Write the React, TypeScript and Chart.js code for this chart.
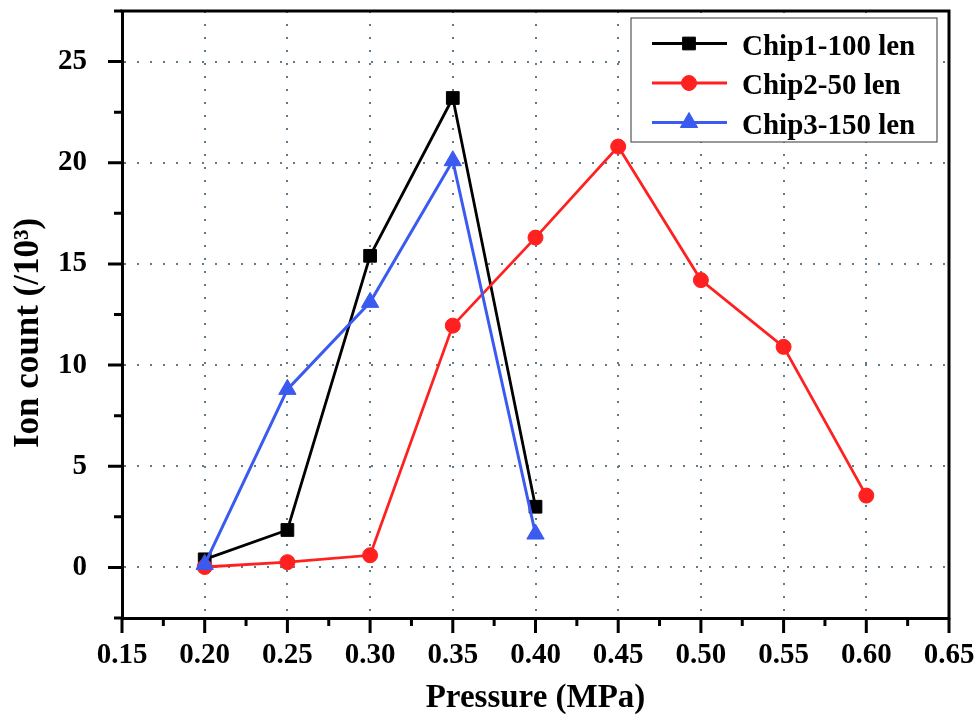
import { useEffect, useRef } from "react";
import { Chart, registerables } from "chart.js";
import { drawPoint } from "chart.js/helpers";

Chart.register(...registerables);

// Pressure (MPa) and ion counts (/10^3)
const pressure = [0.2, 0.25, 0.3, 0.35, 0.4, 0.45, 0.5, 0.55, 0.6];
const chip1 = [0.4, 1.85, 15.4, 23.2, 3.0];
const chip2 = [0.02, 0.26, 0.6, 11.95, 16.3, 20.8, 14.2, 10.9, 3.55];
const chip3 = [0.15, 8.8, 13.1, 20.1, 1.65];
const seriesLabels = ["Chip1-100 len", "Chip2-50 len", "Chip3-150 len"];

const xMajorTicks = [0.15, 0.2, 0.25, 0.3, 0.35, 0.4, 0.45, 0.5, 0.55, 0.6, 0.65];
const yMajorTicks = [0, 5, 10, 15, 20, 25];

const xTitle = "Pressure (MPa)";
const yTitle = "Ion count (/10\u00b3)";

const SERIF = '"Liberation Serif", "Times New Roman", serif';
const GRID = "#62798a";

const isIn = (list: number[], v: number) => list.some((t) => Math.abs(t - v) < 1e-6);

const framePlugin = {
  id: "frame",
  afterDraw(chart: any) {
    const { ctx, chartArea: a, scales } = chart;
    const xs = scales.x;
    const ys = scales.y;
    ctx.save();

    // top and right frame lines
    ctx.strokeStyle = "#000";
    ctx.lineWidth = 3;
    ctx.beginPath();
    ctx.moveTo(a.left - 1.5, a.top);
    ctx.lineTo(a.right + 1.5, a.top);
    ctx.moveTo(a.right, a.top);
    ctx.lineTo(a.right, a.bottom + 1.5);
    ctx.stroke();

    // outward major / minor ticks
    ctx.beginPath();
    xs.ticks.forEach((t: any) => {
      const px = xs.getPixelForValue(t.value);
      ctx.moveTo(px, a.bottom);
      ctx.lineTo(px, a.bottom + (isIn(xMajorTicks, t.value) ? 15 : 8));
    });
    ys.ticks.forEach((t: any) => {
      const py = ys.getPixelForValue(t.value);
      ctx.moveTo(a.left, py);
      ctx.lineTo(a.left - (isIn(yMajorTicks, t.value) ? 14 : 8), py);
    });
    ctx.stroke();

    // axis titles
    ctx.fillStyle = "#000";
    ctx.textAlign = "center";
    ctx.textBaseline = "alphabetic";
    ctx.font = `bold 33px ${SERIF}`;
    ctx.fillText(xTitle, (a.left + a.right) / 2, 707);
    ctx.save();
    ctx.font = `bold 35px ${SERIF}`;
    ctx.translate(38, 333);
    ctx.rotate(-Math.PI / 2);
    ctx.fillText(yTitle, 0, 0);
    ctx.restore();

    // legend box
    const bx = 631, by = 18, bw = 306, bh = 124;
    ctx.fillStyle = "#fff";
    ctx.fillRect(bx, by, bw, bh);
    ctx.strokeStyle = "#555";
    ctx.lineWidth = 1.2;
    ctx.strokeRect(bx, by, bw, bh);

    const rowY = [43.5, 83, 122.5];
    chart.data.datasets.forEach((ds: any, i: number) => {
      const y = rowY[i];
      ctx.strokeStyle = ds.borderColor;
      ctx.lineWidth = ds.borderWidth;
      ctx.beginPath();
      ctx.moveTo(652, y);
      ctx.lineTo(727, y);
      ctx.stroke();
      ctx.fillStyle = ds.pointBackgroundColor;
      ctx.strokeStyle = ds.pointBorderColor;
      ctx.lineWidth = ds.pointBorderWidth;
      drawPoint(ctx, { pointStyle: ds.pointStyle, radius: ds.pointRadius, borderWidth: ds.pointBorderWidth, rotation: 0 }, 689, y);
      ctx.fillStyle = "#000";
      ctx.font = `bold 29px ${SERIF}`;
      ctx.textAlign = "left";
      ctx.textBaseline = "alphabetic";
      ctx.fillText(ds.label, 742, y + 11);
    });

    ctx.restore();
  },
};

export default function App() {
  const canvasRef = useRef<HTMLCanvasElement>(null);
  const chartRef = useRef<Chart | null>(null);

  useEffect(() => {
    if (!canvasRef.current) return;
    if (chartRef.current) chartRef.current.destroy();

    Chart.defaults.font.family = SERIF;
    Chart.defaults.font.weight = "bold";

    const toPoints = (ys: number[]) => ys.map((v, i) => ({ x: pressure[i], y: v }));

    chartRef.current = new Chart(canvasRef.current, {
      type: "line",
      data: {
        datasets: [
          {
            label: seriesLabels[0],
            data: toPoints(chip1),
            borderColor: "#000000",
            backgroundColor: "#000000",
            pointBackgroundColor: "#000000",
            pointBorderColor: "#000000",
            pointStyle: "rect",
            pointRadius: 9,
            pointBorderWidth: 1,
            borderWidth: 2.8,
            order: 2,
          },
          {
            label: seriesLabels[1],
            data: toPoints(chip2),
            borderColor: "#ff2020",
            backgroundColor: "#ff2020",
            pointBackgroundColor: "#ff2020",
            pointBorderColor: "#ff2020",
            pointStyle: "circle",
            pointRadius: 7.5,
            pointBorderWidth: 1,
            borderWidth: 2.8,
            order: 1,
          },
          {
            label: seriesLabels[2],
            data: toPoints(chip3),
            borderColor: "#3a5af0",
            backgroundColor: "#3a5af0",
            pointBackgroundColor: "#3a5af0",
            pointBorderColor: "#3a5af0",
            pointStyle: "triangle",
            pointRadius: 10,
            pointBorderWidth: 1,
            borderWidth: 3,
            order: 0,
          },
        ],
      },
      options: {
        responsive: true,
        maintainAspectRatio: false,
        animation: false,
        events: [],
        layout: { padding: { left: 0, top: 5, right: 31, bottom: 0 } },
        plugins: { legend: { display: false }, tooltip: { enabled: false } },
        scales: {
          x: {
            type: "linear",
            min: 0.15,
            max: 0.65,
            afterFit: (s: any) => {
              s.height = 102;
              s.paddingLeft = 0;
              s.paddingRight = 0;
            },
            ticks: {
              stepSize: 0.025,
              autoSkip: false,
              maxRotation: 0,
              padding: 20,
              color: "#000",
              font: { size: 29, weight: "bold" },
              callback: (v: any) => (isIn(xMajorTicks, Number(v)) ? Number(v).toFixed(2) : ""),
            },
            grid: {
              drawTicks: false,
              lineWidth: 2,
              color: (c: any) => {
                const v = c.tick?.value;
                return v !== undefined && isIn(xMajorTicks, v) && v > 0.16 && v < 0.64 ? GRID : "transparent";
              },
            },
            border: { display: true, color: "#000", width: 3, dash: [2, 11] },
          },
          y: {
            min: -2.5,
            max: 27.5,
            afterFit: (s: any) => {
              s.width = 122;
              s.paddingTop = 0;
              s.paddingBottom = 0;
            },
            ticks: {
              stepSize: 2.5,
              autoSkip: false,
              padding: 35,
              color: "#000",
              font: { size: 29, weight: "bold" },
              callback: (v: any) => (isIn(yMajorTicks, Number(v)) ? String(Math.round(Number(v))) : ""),
            },
            grid: {
              drawTicks: false,
              lineWidth: 2,
              color: (c: any) => {
                const v = c.tick?.value;
                return v !== undefined && isIn(yMajorTicks, v) ? GRID : "transparent";
              },
            },
            border: { display: true, color: "#000", width: 3, dash: [2, 11] },
          },
        },
      },
      plugins: [framePlugin],
    });

    return () => {
      if (chartRef.current) {
        chartRef.current.destroy();
        chartRef.current = null;
      }
    };
  }, []);

  return (
    <div style={{ position: "absolute", left: 0, top: 0, width: 980, height: 720, background: "#fff" }}>
      <canvas ref={canvasRef}></canvas>
    </div>
  );
}
